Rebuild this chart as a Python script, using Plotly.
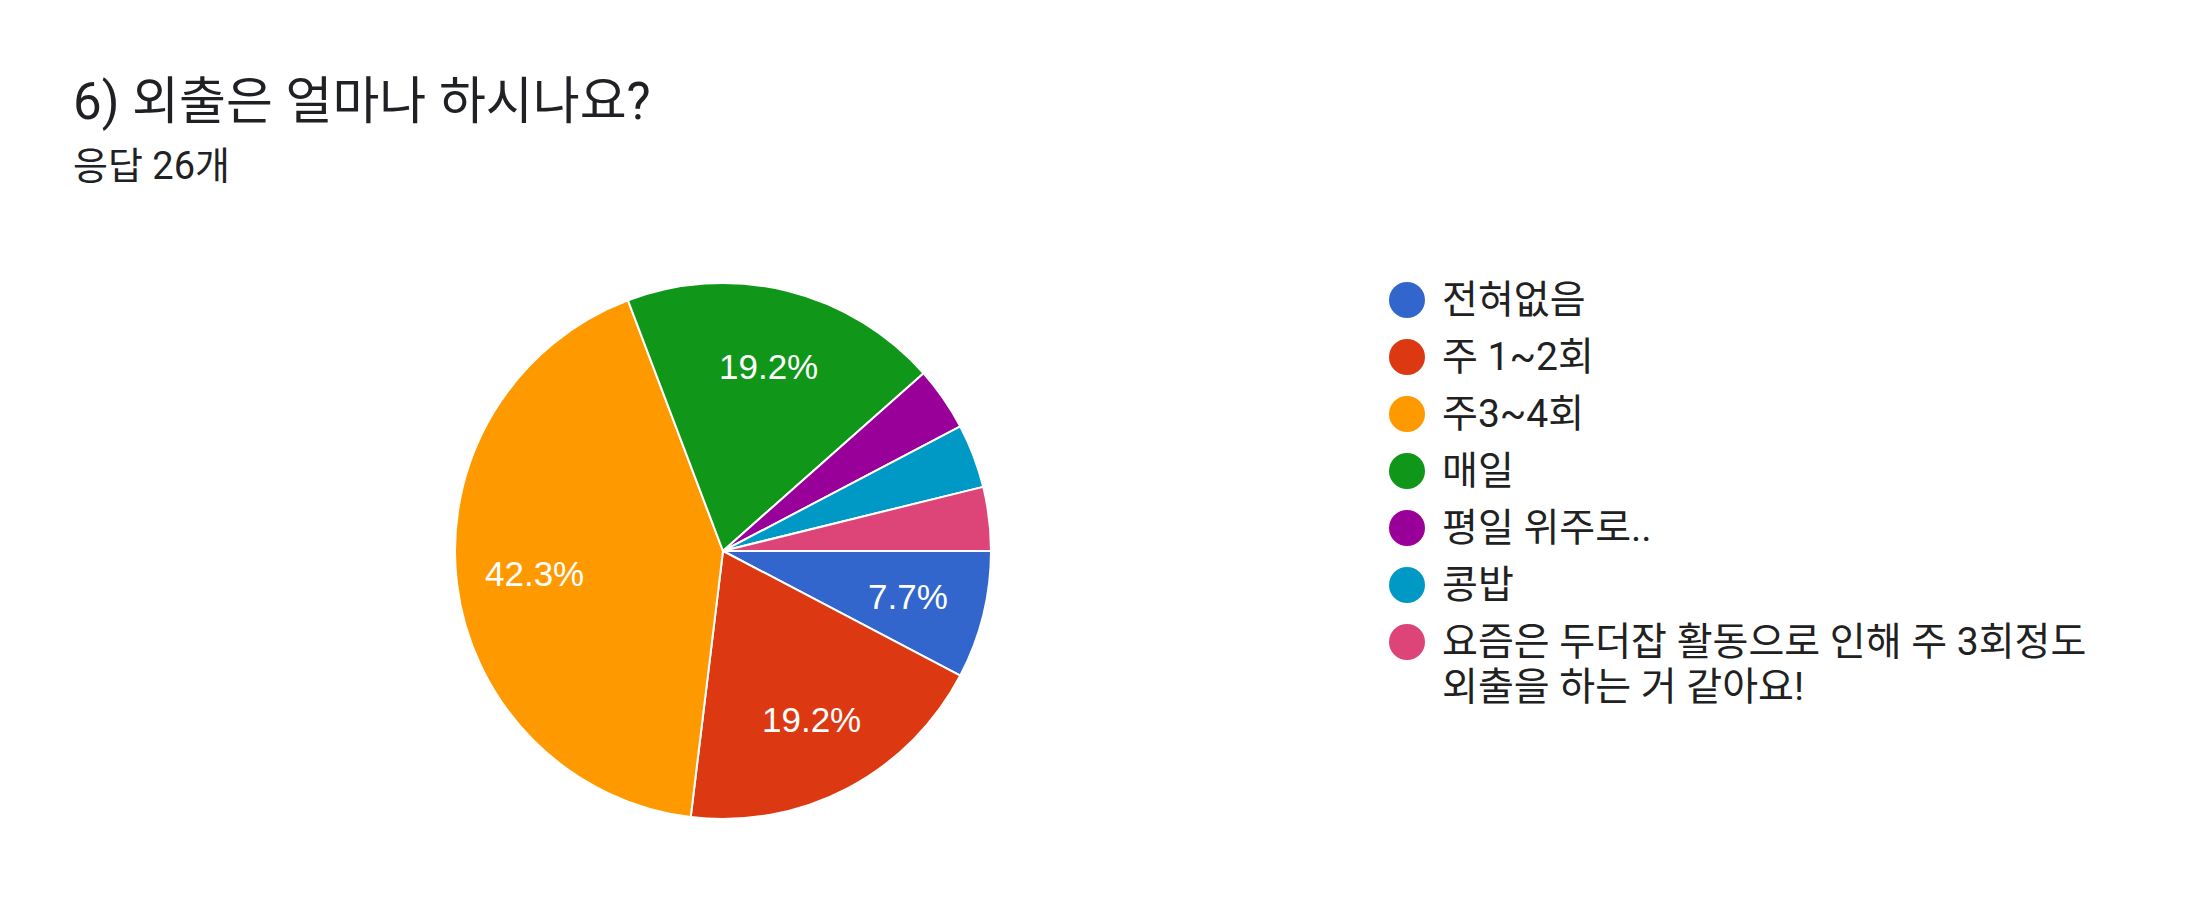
import math
import plotly.graph_objects as go

title = "6) 외출은 얼마나 하시나요?"
subtitle = "응답 26개"

labels = ["전혀없음", "주 1~2회", "주3~4회", "매일", "평일 위주로..", "콩밥",
          "요즘은 두더잡 활동으로 인해 주 3회정도 외출을 하는 거 같아요!"]
counts = [2, 5, 11, 5, 1, 1, 1]
colors = ["#3366cc", "#dc3912", "#ff9900", "#109618", "#990099", "#0099c6", "#dd4477"]

W, H = 2196, 924
kfont = "Roboto, 'Noto Sans CJK KR', sans-serif"

total = sum(counts)
pct_text = [f"{c / total * 100:.1f}%" if c / total >= 0.05 else "" for c in counts]

# pie placement (px): centre and radius
cx, cy, r = 723, 551, 268
pie_dom = dict(x=[(cx - r) / W, (cx + r) / W], y=[(H - cy - r) / H, (H - cy + r) / H])

fig = go.Figure()
fig.add_trace(go.Pie(
    labels=labels, values=counts, textinfo="none",
    sort=False, direction="clockwise", rotation=90,
    marker=dict(colors=colors, line=dict(color="white", width=2)),
    domain=pie_dom, showlegend=False, hoverinfo="label+value+percent",
))

# percentage labels: placed on a hidden square axis pair laid over the pie,
# at 0.71 of the radius along each slice's middle angle (clockwise from 3 o'clock)
acc = 0
for c, t in zip(counts, pct_text):
    mid = (acc + c / 2) / total * 2 * math.pi
    acc += c
    if not t:
        continue
    fig.add_annotation(
        x=0.71 * math.cos(mid), y=-0.71 * math.sin(mid), xref="x2", yref="y2",
        text=t, showarrow=False, xanchor="center", yanchor="middle",
        font=dict(family="'Liberation Sans', Arial", size=35, color="white"),
    )

# hand-made legend: circles on a hidden axis, one row per category
row0, row_gap, line_gap = 300, 57, 45
rows = list(range(len(labels)))
fig.add_trace(go.Scatter(
    x=[1407] * len(labels), y=rows, mode="markers",
    marker=dict(size=36, color=colors, line=dict(width=0)),
    showlegend=False, hoverinfo="skip", xaxis="x", yaxis="y",
))

wrap = {6: ["요즘은 두더잡 활동으로 인해 주 3회정도", "외출을 하는 거 같아요!"]}
for i, lab in enumerate(labels):
    lines = wrap.get(i, [lab])
    for j, ln in enumerate(lines):
        fig.add_annotation(
            x=1440, y=i + j * line_gap / row_gap, xref="x", yref="y",
            text=ln, showarrow=False, xanchor="left", yanchor="middle",
            font=dict(family=kfont, size=39, color="#212121"),
        )

fig.add_annotation(x=71 / W, y=1 - 102 / H, xref="paper", yref="paper",
                   text=title, showarrow=False, xanchor="left", yanchor="middle",
                   font=dict(family=kfont, size=51, color="#202124"))
fig.add_annotation(x=71 / W, y=1 - 166 / H, xref="paper", yref="paper",
                   text=subtitle, showarrow=False, xanchor="left", yanchor="middle",
                   font=dict(family=kfont, size=38, color="#202124"))

fig.update_layout(
    width=W, height=H, margin=dict(l=0, r=0, t=0, b=0),
    paper_bgcolor="white", plot_bgcolor="rgba(0,0,0,0)",
    xaxis=dict(range=[0, W], domain=[0, 1], visible=False, fixedrange=True),
    yaxis=dict(range=[(H - row0) / row_gap, -row0 / row_gap], domain=[0, 1],
               visible=False, fixedrange=True),
    xaxis2=dict(range=[-1, 1], domain=pie_dom["x"], visible=False,
                fixedrange=True, anchor="y2"),
    yaxis2=dict(range=[-1, 1], domain=pie_dom["y"], visible=False,
                fixedrange=True, anchor="x2"),
)

fig.write_html("out.html", config={"displayModeBar": False},
               post_script="document.body.style.margin='0';")
